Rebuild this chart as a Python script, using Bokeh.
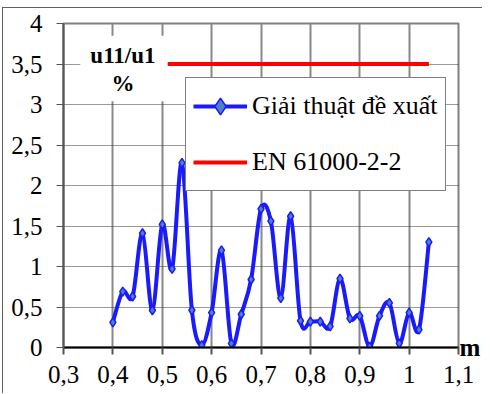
from bokeh.plotting import figure
from bokeh.models import (Legend, LegendItem, Label, BoxAnnotation, FixedTicker,
                          LinearAxis)
from bokeh.embed import file_html
from bokeh.resources import INLINE

# ---- data ----
x_vals = [0.40, 0.42, 0.44, 0.46, 0.48, 0.50, 0.52, 0.54, 0.56, 0.58, 0.60,
          0.62, 0.64, 0.66, 0.68, 0.70, 0.72, 0.74, 0.76, 0.78, 0.80, 0.82,
          0.84, 0.86, 0.88, 0.90, 0.92, 0.94, 0.96, 0.98, 1.00, 1.02, 1.04]
y_vals = [0.31, 0.69, 0.63, 1.41, 0.46, 1.52, 0.97, 2.28, 0.46, 0.03, 0.43,
          1.20, 0.05, 0.41, 0.84, 1.71, 1.56, 0.61, 1.62, 0.33, 0.32, 0.32,
          0.26, 0.85, 0.36, 0.39, 0.01, 0.39, 0.55, 0.05, 0.43, 0.22, 1.30]
limit_x = [0.40, 1.04]
limit_y = [3.5, 3.5]
series_names = ["Giải thuật đề xuất", "EN 61000-2-2"]
x_ticks = [0.3, 0.4, 0.5, 0.6, 0.7, 0.8, 0.9, 1.0, 1.1]
x_tick_labels = ["0,3", "0,4", "0,5", "0,6", "0,7", "0,8", "0,9", "1", "1,1"]
y_ticks = [0, 0.5, 1, 1.5, 2, 2.5, 3, 3.5, 4]
y_tick_labels = ["0", "0,5", "1", "1,5", "2", "2,5", "3", "3,5", "4"]
y_title = ["u11/u1", "%"]
x_title = "m"

FONT = "'Liberation Serif', serif"

p = figure(width=480, height=386, x_range=(0.3, 1.1), y_range=(0, 4),
           output_backend="svg", toolbar_location=None,
           min_border_left=60, min_border_right=24, min_border_top=15,
           min_border_bottom=47)
p.styles = {"border-top": "1px solid #606060", "border-left": "1px solid #606060",
            "margin-top": "7px", "margin-left": "2px"}

p.outline_line_color = "#808080"
p.outline_line_width = 2

# grids
p.xgrid.ticker = FixedTicker(ticks=x_ticks)
p.ygrid.ticker = FixedTicker(ticks=y_ticks)
p.xgrid.grid_line_color = "#888888"
p.xgrid.grid_line_width = 2
p.ygrid.grid_line_color = "#333333"
p.ygrid.grid_line_width = 1
p.ygrid.grid_line_dash = "1 1"

# axes
p.xaxis.ticker = FixedTicker(ticks=x_ticks)
p.yaxis.ticker = FixedTicker(ticks=y_ticks)
p.xaxis.major_label_overrides = dict(zip(x_ticks, x_tick_labels))
p.yaxis.major_label_overrides = dict(zip(y_ticks, y_tick_labels))
for ax in (p.xaxis[0], p.yaxis[0]):
    ax.major_label_text_font = FONT
    ax.major_label_text_font_size = "25px"
    ax.major_label_text_color = "black"
    ax.minor_tick_line_color = None
    ax.major_tick_out = 7
    ax.major_tick_in = 0
p.xaxis.major_label_standoff = 11
p.yaxis.major_label_standoff = 14
p.xaxis.axis_line_color = "black"
p.xaxis.axis_line_width = 2
p.xaxis.major_tick_line_color = "#555555"
p.xaxis.major_tick_line_width = 2
p.yaxis.axis_line_color = "#555555"
p.yaxis.axis_line_width = 2
p.yaxis.major_tick_line_color = "#555555"
p.yaxis.major_tick_line_width = 1

# x-axis unit "m" at the end of the x axis (carried by a bare right axis)
unit_axis = LinearAxis(ticker=FixedTicker(ticks=[0]),
                       major_label_overrides={0: x_title},
                       axis_line_color=None, major_tick_line_color=None,
                       minor_tick_line_color=None, major_tick_out=0,
                       major_tick_in=0, major_label_standoff=1,
                       major_label_text_font=FONT,
                       major_label_text_font_size="25px",
                       major_label_text_font_style="bold",
                       major_label_text_color="black")
p.add_layout(unit_axis, "right")

# smooth curve through data (Catmull-Rom -> cubic Bezier)
n = len(x_vals)
x0, y0, x1, y1, cx0, cy0, cx1, cy1 = [], [], [], [], [], [], [], []
for i in range(n - 1):
    pm = max(i - 1, 0)
    pp = min(i + 2, n - 1)
    x0.append(x_vals[i]); y0.append(y_vals[i])
    x1.append(x_vals[i + 1]); y1.append(y_vals[i + 1])
    cx0.append(x_vals[i] + (x_vals[i + 1] - x_vals[pm]) / 6)
    cy0.append(y_vals[i] + (y_vals[i + 1] - y_vals[pm]) / 6)
    cx1.append(x_vals[i + 1] - (x_vals[pp] - x_vals[i]) / 6)
    cy1.append(y_vals[i + 1] - (y_vals[pp] - y_vals[i]) / 6)

r_curve = p.bezier(x0=x0, y0=y0, x1=x1, y1=y1, cx0=cx0, cy0=cy0, cx1=cx1,
                   cy1=cy1, line_color="#1a1aff", line_width=4)
r_pts = p.scatter(x_vals, y_vals, marker="diamond", size=9,
                  fill_color="#4f81bd", line_color="#1a1aff", line_width=1.5)
r_lim = p.line(limit_x, limit_y, line_color="#ff0000", line_width=4)

# white box behind y-axis title
p.add_layout(BoxAnnotation(left=0.334, right=0.511, bottom=3.04, top=3.85,
                           fill_color="white", fill_alpha=1.0,
                           line_color=None))
p.add_layout(Label(x=0.4204, y=3.61, text=y_title[0], text_align="center",
                   text_baseline="alphabetic", text_font=FONT,
                   text_font_size="23px", text_font_style="bold",
                   text_color="black"))
p.add_layout(Label(x=0.4204, y=3.26, text=y_title[1], text_align="center",
                   text_baseline="alphabetic", text_font=FONT,
                   text_font_size="23px", text_font_style="bold",
                   text_color="black"))

legend = Legend(items=[LegendItem(label=series_names[0], renderers=[r_curve, r_pts]),
                       LegendItem(label=series_names[1], renderers=[r_lim])],
                location=(122, 156))
legend.label_text_font = FONT
legend.label_text_font_size = "26px"
legend.label_text_color = "black"
legend.glyph_width = 54
legend.glyph_height = 42
legend.label_height = 42
legend.label_standoff = 5
legend.spacing = 14
legend.padding = 7
legend.margin = 0
legend.border_line_color = "black"
legend.border_line_width = 1
legend.background_fill_alpha = 1.0
p.add_layout(legend)

open("out.html", "w").write(file_html(p, INLINE))
